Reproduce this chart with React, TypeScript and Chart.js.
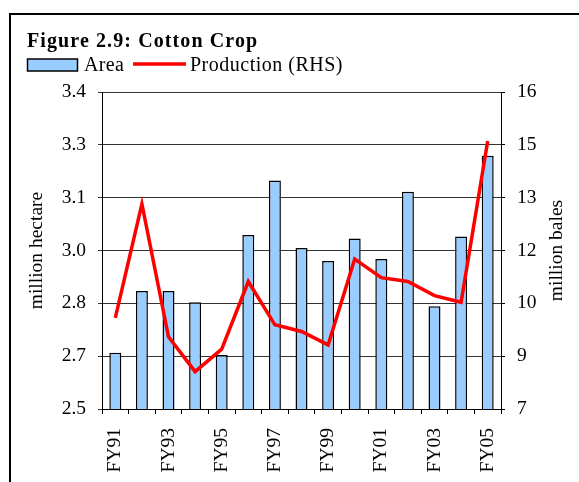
import React, { useEffect, useRef } from "react";
import { Chart, registerables } from "chart.js";

Chart.register(...registerables);

const titleText = "Figure 2.9: Cotton Crop";
const categories = ["FY91", "FY92", "FY93", "FY94", "FY95", "FY96", "FY97", "FY98", "FY99", "FY00", "FY01", "FY02", "FY03", "FY04", "FY05"];
const areaValues = [2.66, 2.835, 2.835, 2.803, 2.653, 2.994, 3.149, 2.957, 2.92, 2.984, 2.926, 3.117, 2.792, 2.99, 3.219];
const productionValues = [9.59, 12.82, 9.05, 8.06, 8.7, 10.62, 9.39, 9.2, 8.82, 11.26, 10.73, 10.62, 10.22, 10.03, 14.61];
const leftTickLabels = ["2.5", "2.7", "2.8", "3.0", "3.1", "3.3", "3.4"];
const rightTickLabels = ["7", "9", "10", "12", "13", "15", "16"];
const areaLabel = "Area";
const productionLabel = "Production (RHS)";
const leftTitle = "million hectare";
const rightTitle = "million bales";

const FONT = "'Liberation Serif', 'Times New Roman', serif";
const BAR_FILL = "#99CCFF";
const LINE_RED = "#FF0000";

const decorPlugin = {
  id: "decor",
  afterDraw(chart: any) {
    const ctx = chart.ctx as CanvasRenderingContext2D;
    ctx.save();
    // outer frame (left + top)
    ctx.fillStyle = "#000";
    ctx.fillRect(9, 13, 570, 2);
    ctx.fillRect(9, 13, 2, 469);

    // title
    ctx.fillStyle = "#000";
    ctx.textBaseline = "alphabetic";
    ctx.textAlign = "left";
    ctx.font = `bold 20px ${FONT}`;
    (ctx as any).letterSpacing = "1.1px";
    ctx.fillText(titleText, 27, 46.5);

    // legend
    (ctx as any).letterSpacing = "0.3px";
    ctx.font = `20px ${FONT}`;
    ctx.fillStyle = BAR_FILL;
    ctx.fillRect(27.5, 59, 50, 12);
    ctx.strokeStyle = "#000";
    ctx.lineWidth = 1.5;
    ctx.strokeRect(27.5, 59, 50, 12);
    ctx.fillStyle = "#000";
    ctx.fillText(areaLabel, 84, 70.5);
    ctx.strokeStyle = LINE_RED;
    ctx.lineWidth = 3.5;
    ctx.beginPath();
    ctx.moveTo(133, 64);
    ctx.lineTo(186, 64);
    ctx.stroke();
    (ctx as any).letterSpacing = "0.5px";
    ctx.fillText(productionLabel, 190, 70.5);

    // right axis title (reads bottom-to-top)
    (ctx as any).letterSpacing = "0px";
    const area = chart.chartArea;
    ctx.translate(557, (area.top + area.bottom) / 2);
    ctx.rotate(-Math.PI / 2);
    ctx.textAlign = "center";
    ctx.textBaseline = "middle";
    ctx.font = `19.5px ${FONT}`;
    ctx.fillText(rightTitle, 0, 0);
    ctx.restore();
  },
};

export default function App() {
  const canvasRef = useRef<HTMLCanvasElement | null>(null);

  useEffect(() => {
    const canvas = canvasRef.current;
    if (!canvas) return;
    const tickFont = { family: FONT, size: 19.5 };
    const chart = new Chart(canvas, {
      data: {
        labels: categories,
        datasets: [
          {
            type: "line",
            label: productionLabel,
            data: productionValues,
            yAxisID: "y1",
            borderColor: LINE_RED,
            borderWidth: 3.5,
            pointRadius: 0,
            tension: 0,
            fill: false,
            order: 0,
          } as any,
          {
            type: "bar",
            label: areaLabel,
            data: areaValues,
            yAxisID: "y",
            backgroundColor: BAR_FILL,
            borderColor: "#000",
            borderWidth: 1.5,
            barPercentage: 0.9,
            categoryPercentage: 0.5,
            order: 1,
          } as any,
        ],
      },
      options: {
        animation: false,
        responsive: false,
        devicePixelRatio: 1,
        layout: { padding: { left: 25, top: 92, right: 0, bottom: 0 } },
        plugins: {
          legend: { display: false },
          title: { display: false },
          tooltip: { enabled: false },
        },
        scales: {
          x: {
            type: "category",
            offset: true,
            grid: { offset: true, drawOnChartArea: false, tickLength: 5, color: "#000", lineWidth: 1 },
            border: { color: "#000", width: 1 },
            ticks: {
              autoSkip: false,
              maxRotation: 90,
              minRotation: 90,
              padding: 14,
              color: "#000",
              font: tickFont,
              callback: (_v: any, i: number) => (i % 2 === 0 ? categories[i] : ""),
            },
            afterFit: (s: any) => {
              s.height = 73;
            },
          },
          y: {
            type: "linear",
            position: "left",
            min: 2.5,
            max: 3.4,
            ticks: {
              stepSize: 0.15,
              padding: 12,
              color: "#000",
              font: tickFont,
              callback: (_v: any, i: number) => leftTickLabels[i],
            },
            grid: { color: "#333", lineWidth: 1, tickLength: 4 },
            border: { color: "#000", width: 1 },
            title: { display: true, text: leftTitle, color: "#000", font: tickFont, padding: 0 },
            afterFit: (s: any) => {
              s.width = 77;
            },
          },
          y1: {
            type: "linear",
            position: "right",
            min: 7,
            max: 16,
            ticks: {
              stepSize: 1.5,
              padding: 12,
              color: "#000",
              font: tickFont,
              callback: (_v: any, i: number) => rightTickLabels[i],
            },
            grid: { drawOnChartArea: false, color: "#000", tickLength: 4 },
            border: { color: "#000", width: 1 },
            afterFit: (s: any) => {
              s.width = 78;
            },
          },
        },
      },
      plugins: [decorPlugin],
    } as any);
    return () => chart.destroy();
  }, []);

  return (
    <div style={{ position: "absolute", left: 0, top: 0, width: 579, height: 482, background: "#fff" }}>
      <canvas ref={canvasRef} width={579} height={482} style={{ width: 579, height: 482, display: "block" }} />
    </div>
  );
}
